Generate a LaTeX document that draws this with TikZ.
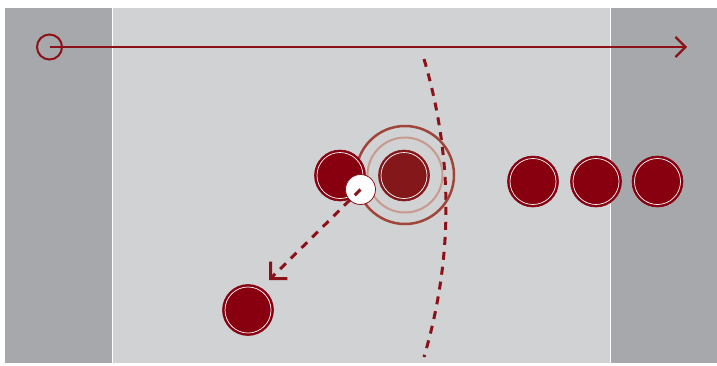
\documentclass[tikz,border=0pt]{standalone}
\usetikzlibrary{arrows.meta}
\definecolor{greydark}{HTML}{A7A8AB}
\definecolor{greylight}{HTML}{D1D2D4}
\definecolor{discred}{HTML}{880010}
\definecolor{targetred}{HTML}{84171A}
\definecolor{outerring}{HTML}{A0453A}
\definecolor{midring}{HTML}{C89A8E}
\definecolor{linered}{HTML}{8B1218}
\tikzset{
  disc/.style={circle, fill=discred, draw=discred, line width=0.6pt, minimum size=51pt, inner sep=0pt,
    path picture={\draw[white, line width=0.7pt] (path picture bounding box.center) circle (23pt);}},
  tdisc/.style={disc, fill=targetred, draw=targetred},
  ball/.style={circle, fill=white, draw=linered, line width=0.8pt, minimum size=30pt, inner sep=0pt},
  ring/.style={circle, inner sep=0pt},
  redline/.style={draw=linered, line width=2.2pt},
  dashline/.style={draw=linered, line width=3pt, dash pattern=on 8pt off 7pt},
}
\begin{document}
\begin{tikzpicture}[x=1pt,y=-1pt]
\useasboundingbox (0,0) rectangle (717,365);
\fill[white] (0,0) rectangle (717,365);
% zones
\fill[greydark] (5,8) rectangle (112,363);
\fill[greylight] (113,8) rectangle (610,363);
\fill[greydark] (611,8) rectangle (717,363);
\draw[white, line width=1.2pt] (112.5,8) -- (112.5,363);
\draw[white, line width=1.2pt] (610.5,8) -- (610.5,363);
% top arrow
\node[ring, draw=linered, line width=2pt, minimum size=25pt] (start) at (49.5,47) {};
\coordinate (endtop) at (687,47);
\draw[redline, -{Straight Barb[length=10pt,width=20pt]}] (start.center) -- (endtop);
% curved dashed line
\coordinate (ctop) at (424,59);
\coordinate (cbot) at (424,357);
\draw[dashline] (ctop) .. controls (453.3,158) and (453.3,258) .. (cbot);
% target
\node[ring, draw=outerring, line width=2.5pt, minimum size=98pt] (outer) at (405,175) {};
\node[ring, draw=midring, line width=2pt, minimum size=75pt] (mid) at (405,175) {};
\node[tdisc] (target) at (404,175.5) {};
% discs
\node[disc] (d1) at (340,175.5) {};
\node[disc] (d2) at (533,181.5) {};
\node[disc] (d3) at (596,181.5) {};
\node[disc] (d4) at (657.5,181.5) {};
\node[disc] (d5) at (248,310) {};
% ball
\node[ball] (ball) at (360.5,189.5) {};
\coordinate (tip) at (269,280);
\draw[dashline, -{Straight Barb[length=12pt,width=24pt]}] (ball.center) -- (tip);
\end{tikzpicture}
\end{document}
